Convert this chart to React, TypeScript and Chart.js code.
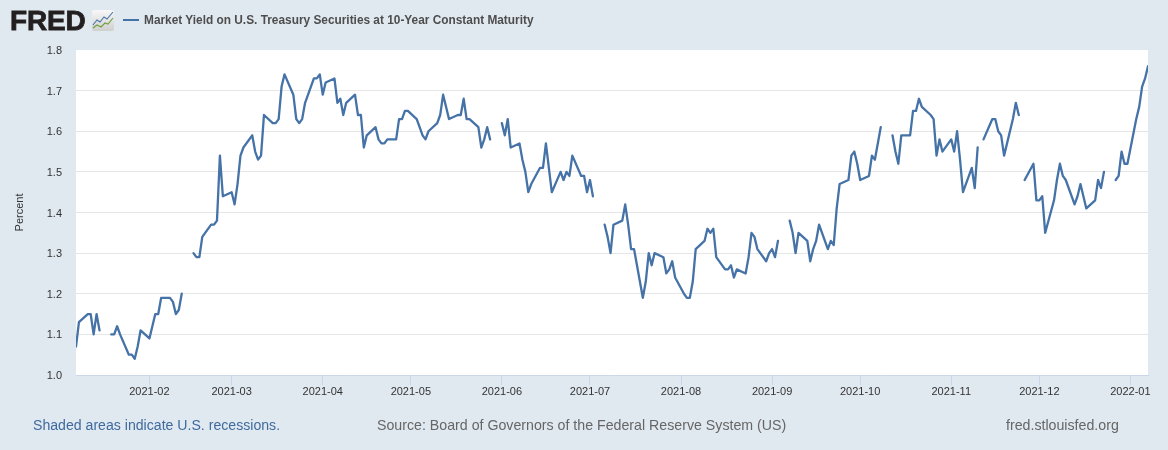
import React, { useEffect, useRef } from "react";
import { Chart, registerables } from "chart.js";

Chart.register(...registerables);

const seriesLabel = "Market Yield on U.S. Treasury Securities at 10-Year Constant Maturity";
const yTitle = "Percent";
const footerLeft = "Shaded areas indicate U.S. recessions.";
const footerMid = "Source: Board of Governors of the Federal Reserve System (US)";
const footerRight = "fred.stlouisfed.org";

const monthStarts = ["2021-02", "2021-03", "2021-04", "2021-05", "2021-06", "2021-07", "2021-08", "2021-09", "2021-10", "2021-11", "2021-12", "2022-01"];
const yTicks = [1.0, 1.1, 1.2, 1.3, 1.4, 1.5, 1.6, 1.7, 1.8];

const dJan21 = [7, 8, 11, 12, 13, 14, 15, 18, 19, 20, 21, 22, 25, 26, 27, 28, 29];
const vJan21 = [1.07, 1.13, 1.15, 1.15, 1.1, 1.15, 1.11, null, 1.1, 1.1, 1.12, 1.1, 1.05, 1.05, 1.04, 1.07, 1.11];
const dFeb21 = [1, 2, 3, 4, 5, 8, 9, 10, 11, 12, 15, 16, 17, 18, 19, 22, 23, 24, 25, 26];
const vFeb21 = [1.09, 1.12, 1.15, 1.15, 1.19, 1.19, 1.18, 1.15, 1.16, 1.2, null, 1.3, 1.29, 1.29, 1.34, 1.37, 1.37, 1.38, 1.54, 1.44];
const dMar21 = [1, 2, 3, 4, 5, 8, 9, 10, 11, 12, 15, 16, 17, 18, 19, 22, 23, 24, 25, 26, 29, 30, 31];
const vMar21 = [1.45, 1.42, 1.47, 1.54, 1.56, 1.59, 1.55, 1.53, 1.54, 1.64, 1.62, 1.62, 1.63, 1.71, 1.74, 1.69, 1.63, 1.62, 1.63, 1.67, 1.73, 1.73, 1.74];
const dApr21 = [1, 2, 5, 6, 7, 8, 9, 12, 13, 14, 15, 16, 19, 20, 21, 22, 23, 26, 27, 28, 29, 30];
const vApr21 = [1.69, 1.72, 1.73, 1.67, 1.68, 1.64, 1.67, 1.69, 1.64, 1.64, 1.56, 1.59, 1.61, 1.58, 1.57, 1.57, 1.58, 1.58, 1.63, 1.63, 1.65, 1.65];
const dMay21 = [3, 4, 5, 6, 7, 10, 11, 12, 13, 14, 17, 18, 19, 20, 21, 24, 25, 26, 27, 28, 31];
const vMay21 = [1.63, 1.61, 1.59, 1.58, 1.6, 1.62, 1.64, 1.69, 1.66, 1.63, 1.64, 1.64, 1.68, 1.63, 1.63, 1.61, 1.56, 1.58, 1.61, 1.58, null];
const dJun21 = [1, 2, 3, 4, 7, 8, 9, 10, 11, 14, 15, 16, 17, 18, 21, 22, 23, 24, 25, 28, 29, 30];
const vJun21 = [1.62, 1.59, 1.63, 1.56, 1.57, 1.53, 1.5, 1.45, 1.47, 1.51, 1.51, 1.57, 1.51, 1.45, 1.5, 1.48, 1.5, 1.49, 1.54, 1.49, 1.49, 1.45];
const dJul21 = [1, 2, 5, 6, 7, 8, 9, 12, 13, 14, 15, 16, 19, 20, 21, 22, 23, 26, 27, 28, 29, 30];
const vJul21 = [1.48, 1.44, null, 1.37, 1.34, 1.3, 1.37, 1.38, 1.42, 1.37, 1.31, 1.31, 1.19, 1.23, 1.3, 1.27, 1.3, 1.29, 1.25, 1.26, 1.28, 1.24];
const dAug21 = [2, 3, 4, 5, 6, 9, 10, 11, 12, 13, 16, 17, 18, 19, 20, 23, 24, 25, 26, 27, 30, 31];
const vAug21 = [1.2, 1.19, 1.19, 1.23, 1.31, 1.33, 1.36, 1.35, 1.36, 1.29, 1.26, 1.26, 1.27, 1.24, 1.26, 1.25, 1.29, 1.35, 1.34, 1.31, 1.28, 1.3];
const dSep21 = [1, 2, 3, 6, 7, 8, 9, 10, 13, 14, 15, 16, 17, 20, 21, 22, 23, 24, 27, 28, 29, 30];
const vSep21 = [1.31, 1.29, 1.33, null, 1.38, 1.35, 1.3, 1.35, 1.33, 1.28, 1.31, 1.33, 1.37, 1.31, 1.33, 1.32, 1.41, 1.47, 1.48, 1.54, 1.55, 1.52];
const dOct21 = [1, 4, 5, 6, 7, 8, 11, 12, 13, 14, 15, 18, 19, 20, 21, 22, 25, 26, 27, 28, 29];
const vOct21 = [1.48, 1.49, 1.54, 1.53, 1.57, 1.61, null, 1.59, 1.55, 1.52, 1.59, 1.59, 1.65, 1.65, 1.68, 1.66, 1.64, 1.63, 1.54, 1.58, 1.55];
const dNov21 = [1, 2, 3, 4, 5, 8, 9, 10, 11, 12, 15, 16, 17, 18, 19, 22, 23, 24, 25, 26, 29, 30];
const vNov21 = [1.58, 1.55, 1.6, 1.53, 1.45, 1.51, 1.46, 1.56, null, 1.58, 1.63, 1.63, 1.6, 1.59, 1.54, 1.63, 1.67, 1.64, null, 1.48, 1.52, 1.43];
const dDec21 = [1, 2, 3, 6, 7, 8, 9, 10, 13, 14, 15, 16, 17, 20, 21, 22, 23, 24, 27, 28, 29, 30, 31];
const vDec21 = [1.43, 1.44, 1.35, 1.43, 1.48, 1.52, 1.49, 1.48, 1.42, 1.44, 1.47, 1.44, 1.41, 1.43, 1.48, 1.46, 1.5, null, 1.48, 1.49, 1.55, 1.52, 1.52];
const dJan22 = [3, 4, 5, 6, 7];
const vJan22 = [1.63, 1.66, 1.71, 1.73, 1.76];

const months: [string, number[], (number | null)[]][] = [
  ["2021-01", dJan21, vJan21],
  ["2021-02", dFeb21, vFeb21],
  ["2021-03", dMar21, vMar21],
  ["2021-04", dApr21, vApr21],
  ["2021-05", dMay21, vMay21],
  ["2021-06", dJun21, vJun21],
  ["2021-07", dJul21, vJul21],
  ["2021-08", dAug21, vAug21],
  ["2021-09", dSep21, vSep21],
  ["2021-10", dOct21, vOct21],
  ["2021-11", dNov21, vNov21],
  ["2021-12", dDec21, vDec21],
  ["2022-01", dJan22, vJan22],
];

const ms = (ym: string, day: number) => {
  const [y, m] = ym.split("-").map(Number);
  return Date.UTC(y, m - 1, day);
};

const points = months.flatMap(([ym, days, vals]) => days.map((d, i) => ({ x: ms(ym, d), y: vals[i] })));
const monthTicks = monthStarts.map((m) => ms(m, 1));
const fmtMonth = (v: number) => {
  const d = new Date(v);
  return `${d.getUTCFullYear()}-${String(d.getUTCMonth() + 1).padStart(2, "0")}`;
};

const FONT = '"Liberation Sans", Arial, sans-serif';

const whitePlot = {
  id: "whitePlot",
  beforeDraw(chart: any) {
    const { ctx, chartArea: a } = chart;
    ctx.save();
    ctx.fillStyle = "#ffffff";
    ctx.fillRect(a.left, a.top, a.right - a.left, a.bottom - a.top);
    ctx.restore();
    if (!chart.$labelsNudged) {
      chart.$labelsNudged = true;
      chart.scales.y.getLabelItems(a).forEach((item: any) => {
        item.options.translation[1] += 1;
      });
    }
  },
};

export default function App() {
  const ref = useRef<HTMLCanvasElement>(null);
  useEffect(() => {
    document.body.style.margin = "0";
    const chart = new Chart(ref.current!, {
      type: "line",
      data: {
        datasets: [
          {
            label: seriesLabel,
            data: points as any,
            borderColor: "#4572a7",
            borderWidth: 2.3,
            borderJoinStyle: "round",
            borderCapStyle: "round",
            pointRadius: 0,
            tension: 0,
            spanGaps: false,
            fill: false,
          },
        ],
      },
      options: {
        animation: false,
        responsive: false,
        devicePixelRatio: 1,
        layout: { padding: { left: 13, right: 20, top: 50, bottom: 0 } },
        plugins: { legend: { display: false }, tooltip: { enabled: false } },
        scales: {
          x: {
            type: "linear",
            min: ms("2021-01", 7),
            max: ms("2022-01", 7),
            afterBuildTicks: (s: any) => {
              s.ticks = monthTicks.map((value) => ({ value }));
            },
            afterFit: (s: any) => {
              s.height = 75;
            },
            grid: { drawOnChartArea: false, drawTicks: true, tickLength: 10, color: "#ccd6eb" },
            border: { color: "#ccd6eb", width: 1 },
            ticks: {
              callback: (v: any) => fmtMonth(Number(v)),
              autoSkip: false,
              maxRotation: 0,
              padding: 0,
              color: "#333333",
              font: { family: FONT, size: 11 },
            },
          },
          y: {
            min: 1.0,
            max: 1.8,
            afterBuildTicks: (s: any) => {
              s.ticks = yTicks.map((value) => ({ value }));
            },
            afterFit: (s: any) => {
              s.width = 63;
            },
            title: { display: true, text: yTitle, color: "#333333", font: { family: FONT, size: 11 }, padding: { top: 0, bottom: 0 } },
            grid: {
              color: (c: any) => (c.tick && c.tick.value === 1.8 ? "rgba(0,0,0,0)" : "#e6e6e6"),
              drawTicks: false,
              lineWidth: 1,
            },
            border: { display: false },
            ticks: {
              callback: (v: any) => Number(v).toFixed(1),
              padding: 14,
              color: "#333333",
              font: { family: FONT, size: 11 },
            },
          },
        },
      },
      plugins: [whitePlot],
    } as any);
    return () => chart.destroy();
  }, []);

  const text: React.CSSProperties = { position: "absolute", fontFamily: FONT, whiteSpace: "nowrap", lineHeight: "16px" };
  return (
    <div style={{ position: "relative", width: 1168, height: 450, background: "#e1e9f0", overflow: "hidden" }}>
      <canvas ref={ref} width={1168} height={450} style={{ display: "block", position: "absolute", left: 0, top: 0 }} />
      <div style={{ ...text, left: 10, top: 6, fontSize: 28, lineHeight: "30px", fontWeight: 700, color: "#231f20", WebkitTextStroke: "0.8px #231f20", letterSpacing: "-0.2px" }}>FRED</div>
      <svg width={22} height={21} style={{ position: "absolute", left: 92, top: 10 }} viewBox="0 0 22 21">
        <defs>
          <linearGradient id="iconBg" x1="0" y1="0" x2="0" y2="1">
            <stop offset="0" stopColor="#f8f8f8" />
            <stop offset="1" stopColor="#cfcfcf" />
          </linearGradient>
        </defs>
        <rect x="0" y="0" width="22" height="21" rx="2" fill="url(#iconBg)" />
        <polyline points="1,15 5,10 8,12 12,7 15,9 21,2" fill="none" stroke="#4a78a8" strokeWidth="1.1" />
        <polyline points="1,18 5,15 9,17 13,13 16,14 21,8" fill="none" stroke="#6f9e3f" strokeWidth="1.1" />
      </svg>
      <div style={{ position: "absolute", left: 123, top: 19, width: 16, height: 2, background: "#4572a7" }} />
      <div style={{ ...text, left: 144, top: 12, fontSize: 11.87, fontWeight: 700, color: "#4d4d4d" }}>{seriesLabel}</div>
      <div style={{ ...text, left: 33, top: 417, fontSize: 14.12, color: "#3e6a9e" }}>{footerLeft}</div>
      <div style={{ ...text, left: 377, top: 417, fontSize: 14.2, color: "#666666" }}>{footerMid}</div>
      <div style={{ ...text, left: 1006, top: 417, fontSize: 14.2, color: "#666666" }}>{footerRight}</div>
    </div>
  );
}
